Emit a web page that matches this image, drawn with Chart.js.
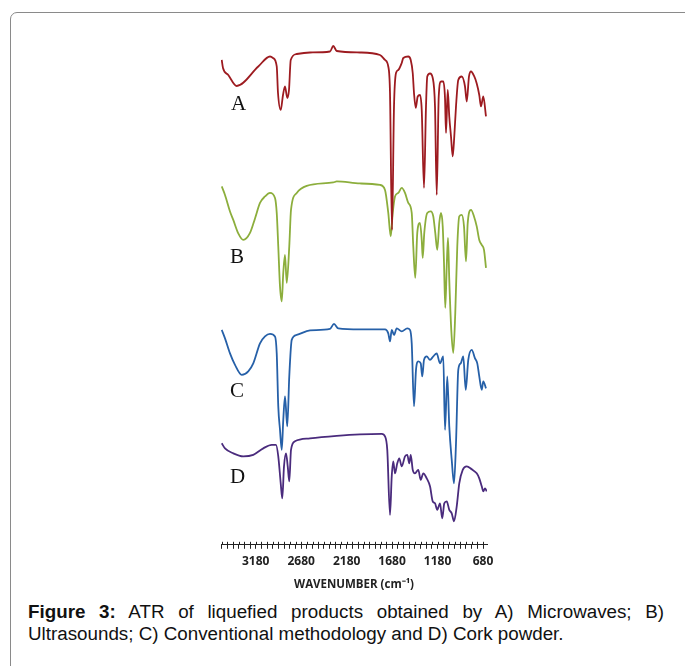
<!DOCTYPE html>
<html>
<head>
<meta charset="utf-8">
<script src="https://cdn.jsdelivr.net/npm/chart.js@4.4.1/dist/chart.umd.min.js"></script>
<style>
  body { margin: 0; width: 685px; height: 666px; overflow: hidden; background: #fff; position: relative; }
  .frame { position: absolute; left: 10px; top: 12px; width: 720px; height: 720px; border: 1px solid #8a8a8a; border-radius: 7px; }
  #chart { position: absolute; left: 0; top: 0; }
  .tag { position: absolute; font-family: "Liberation Serif", serif; font-size: 21px; line-height: 21px; color: #111; }
  .caption { position: absolute; left: 28px; top: 601px; width: 636px; font-family: "Liberation Sans", Arial, sans-serif; font-size: 18.8px; line-height: 22px; color: #111; }
  .caption .l1 { text-align: justify; text-align-last: justify; white-space: nowrap; }
</style>
</head>
<body>
<div class="frame"></div>
<canvas id="chart" width="685" height="600"></canvas>
<div class="tag" style="left:231px; top:93px">A</div>
<div class="tag" style="left:230px; top:246px">B</div>
<div class="tag" style="left:230px; top:380px">C</div>
<div class="tag" style="left:230px; top:466px">D</div>
<div class="caption">
  <div class="l1"><b>Figure 3:</b> ATR of liquefied products obtained by A) Microwaves; B)</div>
  <div>Ultrasounds; C) Conventional methodology and D) Cork powder.</div>
</div>
<script>
// wavenumber (cm-1) and offset transmittance
const waveA = [3554, 3540, 3482, 3389, 3152, 3023, 2990, 2949, 2935, 2905, 2880, 2858, 2833, 2814, 2795, 2729, 2583, 2363, 2327, 2289, 2033, 1813, 1758, 1722, 1703, 1681, 1659, 1637, 1612, 1574, 1557, 1502, 1475, 1453, 1439, 1420, 1398, 1373, 1354, 1329, 1307, 1293, 1263, 1233, 1208, 1189, 1167, 1142, 1117, 1098, 1087, 1068, 1051, 1032, 1013, 996, 977, 952, 914, 878, 859, 834, 812, 776, 749, 721, 702, 677, 647];
const transA = [97.0, 95.4, 94.0, 91.8, 95.7, 97.7, 97.4, 95.7, 90.4, 87.0, 90.0, 91.7, 89.4, 91.0, 97.0, 98.2, 98.5, 98.7, 99.8, 98.8, 98.5, 98.0, 97.0, 95.7, 90.4, 63.0, 87.7, 94.4, 95.0, 96.4, 97.4, 97.7, 97.0, 94.4, 90.4, 87.4, 89.7, 90.0, 87.0, 71.4, 87.7, 93.7, 94.3, 93.4, 87.7, 70.0, 89.7, 92.7, 92.7, 89.4, 82.4, 91.0, 85.7, 81.7, 77.7, 81.7, 87.7, 93.0, 93.7, 91.7, 88.7, 93.7, 94.7, 93.7, 92.3, 90.0, 87.7, 89.7, 85.7];

const waveB = [3554, 3518, 3463, 3427, 3372, 3317, 3243, 3188, 3133, 3078, 3023, 2968, 2949, 2932, 2913, 2894, 2877, 2858, 2839, 2811, 2792, 2729, 2619, 2327, 2289, 2033, 1813, 1758, 1722, 1695, 1673, 1648, 1612, 1574, 1538, 1502, 1464, 1447, 1425, 1403, 1373, 1354, 1343, 1326, 1293, 1255, 1227, 1205, 1183, 1161, 1142, 1123, 1109, 1095, 1079, 1065, 1051, 1029, 1007, 985, 963, 941, 914, 889, 867, 848, 812, 779, 749, 721, 694, 669, 647];
const transB = [71.7, 70.0, 66.7, 65.0, 62.3, 61.0, 62.4, 65.3, 68.4, 69.7, 70.4, 69.4, 66.4, 59.7, 51.7, 48.7, 54.4, 58.0, 52.4, 59.7, 67.0, 70.4, 71.8, 72.5, 72.7, 72.3, 72.0, 71.0, 66.4, 61.7, 66.4, 69.7, 70.4, 71.4, 70.4, 68.4, 66.4, 59.7, 53.4, 62.4, 64.4, 61.0, 57.4, 62.4, 66.4, 66.7, 65.7, 62.4, 59.0, 64.4, 66.4, 63.7, 56.4, 47.4, 55.7, 61.4, 53.0, 43.0, 38.4, 46.4, 59.7, 65.7, 66.0, 63.7, 56.7, 64.4, 67.0, 65.7, 63.7, 61.0, 60.0, 59.0, 55.4];

const waveC = [3554, 3518, 3463, 3408, 3334, 3262, 3207, 3133, 3078, 3023, 2968, 2949, 2932, 2913, 2894, 2877, 2858, 2833, 2811, 2784, 2729, 2583, 2363, 2319, 2272, 2033, 1758, 1722, 1703, 1684, 1659, 1629, 1574, 1513, 1483, 1464, 1439, 1417, 1392, 1365, 1348, 1329, 1299, 1263, 1227, 1189, 1153, 1117, 1098, 1073, 1051, 1024, 999, 977, 952, 925, 897, 870, 842, 804, 768, 743, 721, 694, 677, 647];
const transC = [43.0, 41.3, 38.3, 36.0, 34.0, 34.7, 36.3, 40.3, 41.7, 42.2, 41.7, 38.3, 27.7, 23.0, 19.0, 25.0, 29.7, 23.7, 33.7, 41.0, 42.0, 42.9, 43.2, 44.2, 43.3, 43.1, 43.1, 42.3, 40.7, 43.0, 42.0, 43.3, 42.7, 43.3, 43.0, 40.3, 27.7, 35.0, 36.7, 36.3, 33.7, 37.0, 37.7, 37.0, 37.7, 38.3, 36.3, 37.7, 23.0, 33.7, 23.7, 17.0, 12.3, 20.3, 35.0, 36.3, 37.7, 31.0, 37.0, 39.0, 37.3, 36.3, 33.7, 31.0, 32.7, 31.3];

const waveD = [3554, 3518, 3427, 3317, 3207, 3097, 3004, 2957, 2932, 2905, 2888, 2869, 2847, 2828, 2811, 2792, 2748, 2583, 2289, 2033, 1794, 1758, 1733, 1703, 1684, 1667, 1648, 1623, 1601, 1574, 1538, 1513, 1491, 1475, 1453, 1428, 1392, 1365, 1337, 1299, 1263, 1233, 1208, 1183, 1153, 1128, 1106, 1079, 1051, 1024, 999, 969, 941, 903, 859, 804, 749, 721, 694, 677, 658, 639];
const transD = [20.3, 19.3, 18.3, 17.7, 18.0, 19.3, 20.0, 20.0, 17.7, 12.3, 9.3, 15.7, 18.3, 15.7, 12.7, 19.0, 20.7, 21.3, 21.8, 22.1, 22.2, 21.7, 19.0, 6.0, 13.7, 16.7, 14.3, 16.3, 17.3, 15.7, 17.7, 18.0, 16.3, 18.0, 15.0, 14.3, 15.0, 13.0, 14.3, 13.3, 11.7, 8.7, 8.3, 7.0, 8.3, 5.3, 8.3, 8.7, 7.0, 6.3, 4.7, 7.7, 12.3, 15.0, 15.7, 15.1, 14.3, 13.3, 11.7, 10.7, 11.3, 10.7];

const tickLabels = [3180, 2680, 2180, 1680, 1180, 680];
const minorStep = 62.5;

function points(xs, ys) {
    return xs.map((x, i) => ({ x: x, y: ys[i] }));
}

function series(xs, ys, color) {
    return {
        data: points(xs, ys),
        borderColor: color,
        borderWidth: 1.8,
        pointRadius: 0,
        cubicInterpolationMode: 'monotone',
        fill: false
    };
}

// draws the part of each tick above the axis line, so ticks look like crosses
const crossTicks = {
    id: 'crossTicks',
    afterDraw(chart) {
        const xs = chart.scales.x;
        const ctx = chart.ctx;
        const y0 = chart.chartArea.bottom;
        ctx.save();
        ctx.strokeStyle = '#222';
        ctx.lineWidth = 1;
        xs.ticks.forEach(t => {
            const px = Math.round(xs.getPixelForValue(t.value)) + 0.5;
            ctx.beginPath();
            ctx.moveTo(px, y0 - 3);
            ctx.lineTo(px, y0);
            ctx.stroke();
        });
        ctx.restore();
    }
};

const ctx = document.getElementById('chart').getContext('2d');
const chart = new Chart(ctx, {
    type: 'line',
    data: {
        datasets: [
            series(waveA, transA, '#9d1b20'),
            series(waveB, transB, '#8cae3c'),
            series(waveC, transC, '#2660a8'),
            series(waveD, transD, '#4a2b7d')
        ]
    },
    options: {
        responsive: false,
        animation: false,
        devicePixelRatio: 1,
        layout: { padding: { left: 221, right: 198, top: 40, bottom: 8 } },
        plugins: { legend: { display: false }, tooltip: { enabled: false } },
        scales: {
            x: {
                type: 'linear',
                reverse: true,
                min: 636,
                max: 3562,
                afterBuildTicks: scale => {
                    const ticks = [];
                    for (let v = 680; v <= 3562; v += minorStep) ticks.push({ value: v });
                    scale.ticks = ticks;
                },
                grid: { drawOnChartArea: false, drawTicks: true, tickLength: 4, color: '#222' },
                border: { display: true, color: '#222', width: 1 },
                ticks: {
                    autoSkip: false,
                    maxRotation: 0,
                    padding: 6,
                    color: '#222',
                    font: { family: 'Open Sans', size: 12, weight: 'bold' },
                    callback: v => tickLabels.includes(v) ? String(v) : ''
                },
                title: {
                    display: true,
                    text: 'WAVENUMBER (cm\u207B\u00B9)',
                    color: '#222',
                    padding: { top: 3, bottom: 0 },
                    font: { family: 'Open Sans', size: 11.5, weight: 'bold' }
                }
            },
            y: { display: false, min: 0, max: 101 }
        }
    },
    plugins: [crossTicks]
});
</script>
</body>
</html>
